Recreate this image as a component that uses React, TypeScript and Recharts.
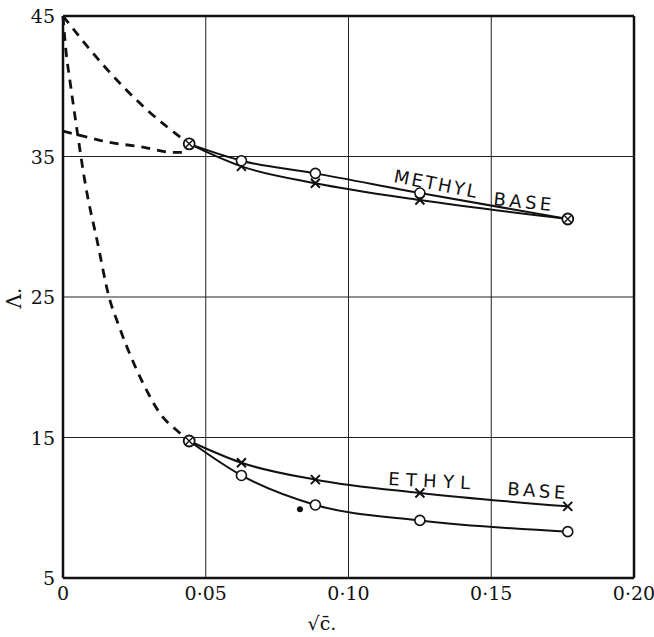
import { ComposedChart, Line, Scatter, XAxis, YAxis, CartesianGrid, ReferenceLine } from "recharts";

// sqrt(c) for the five dilutions
const ROOT_C = [0.0442, 0.0625, 0.0884, 0.125, 0.1768];

const METHYL_CIRCLES = [35.9, 34.7, 33.8, 32.4, 30.55];
const METHYL_CROSSES = [35.9, 34.3, 33.1, 31.9, 30.55];
const ETHYL_CROSSES = [14.75, 13.2, 12.0, 11.05, 10.1];
const ETHYL_CIRCLES = [14.75, 12.3, 10.2, 9.1, 8.3];

// dashed extrapolations towards zero concentration
const UPPER_DASH_X = [0, 0.015, 0.029, 0.0442];
const UPPER_DASH_Y = [45, 41.3, 38.4, 35.9];
const FLAT_DASH_X = [0, 0.006, 0.0164, 0.027, 0.0385, 0.0437];
const FLAT_DASH_Y = [36.8, 36.5, 36.0, 35.7, 35.3, 35.3];
const STEEP_DASH_X = [0, 0.001, 0.0024, 0.0049, 0.008, 0.0119, 0.0164, 0.0192, 0.0224, 0.028, 0.0339, 0.0409, 0.0442];
const STEEP_DASH_Y = [45, 42.58, 40.44, 36.89, 32.83, 29.06, 24.79, 23.15, 21.44, 18.88, 16.74, 15.32, 14.75];

const STRAY_POINT = [{ x: 0.083, y: 9.9 }];

const X_TICKS = [0, 0.05, 0.1, 0.15, 0.2];
const Y_TICKS = [5, 15, 25, 35, 45];

const zip = (xs: number[], ys: number[]) => xs.map((x, i) => ({ x, y: ys[i] }));

const INK = "#111";
const SERIF = "DejaVu Serif";

const Circle = ({ cx, cy }: any) => <circle cx={cx} cy={cy} r={5} fill="#fff" stroke={INK} strokeWidth={1.6} />;
const Cross = ({ cx, cy }: any) => (
  <path d={`M${cx - 4.5},${cy - 4.5}L${cx + 4.5},${cy + 4.5}M${cx - 4.5},${cy + 4.5}L${cx + 4.5},${cy - 4.5}`} stroke={INK} strokeWidth={2} />
);
const CircledCross = ({ cx, cy }: any) => (
  <g>
    <circle cx={cx} cy={cy} r={5.5} fill="#fff" stroke={INK} strokeWidth={1.8} />
    <path d={`M${cx - 3.5},${cy - 3.5}L${cx + 3.5},${cy + 3.5}M${cx - 3.5},${cy + 3.5}L${cx + 3.5},${cy - 3.5}`} stroke={INK} strokeWidth={1.4} />
  </g>
);

const dotFor = (kind: "o" | "x", endsCircled: number[], skip: number[]) => (p: any) => {
  const key = `${kind}-${p.index}`;
  if (skip.includes(p.index)) return <g key={key} />;
  if (endsCircled.includes(p.index)) return <CircledCross key={key} cx={p.cx} cy={p.cy} />;
  return kind === "o" ? <Circle key={key} cx={p.cx} cy={p.cy} /> : <Cross key={key} cx={p.cx} cy={p.cy} />;
};

const fmtX = (v: number) => (v === 0 ? "0" : v.toFixed(2).replace(".", "·"));

const XTick = ({ x, y, payload }: any) => (
  <text x={x} y={y} dy={14} textAnchor="middle" fontFamily={SERIF} fontSize={19} fill={INK}>
    {fmtX(payload.value)}
  </text>
);
const YTick = ({ x, y, payload }: any) => (
  <text x={x} y={y} dy={7} textAnchor="end" fontFamily={SERIF} fontSize={19} fill={INK}>
    {payload.value}
  </text>
);

const labelStyle = { fontFamily: "DejaVu Sans", fontSize: 18, fill: INK };

export default function App() {
  return (
    <div style={{ position: "absolute", left: 0, top: 0, width: 654, height: 637, background: "#fff" }}>
      <ComposedChart width={654} height={637} margin={{ top: 16, right: 20, bottom: 0, left: 8 }}>
        <CartesianGrid stroke="#222" strokeWidth={1} />
        <XAxis
          type="number"
          dataKey="x"
          domain={[0, 0.2]}
          ticks={X_TICKS}
          height={59}
          tickLine={false}
          tickSize={0}
          tickMargin={8}
          axisLine={{ stroke: INK, strokeWidth: 2.5 }}
          tick={XTick}
          interval={0}
        />
        <YAxis
          type="number"
          dataKey="y"
          domain={[5, 45]}
          ticks={Y_TICKS}
          width={55}
          tickLine={false}
          tickSize={0}
          tickMargin={8}
          axisLine={{ stroke: INK, strokeWidth: 2.5 }}
          tick={YTick}
          interval={0}
        />
        <ReferenceLine y={45} stroke={INK} strokeWidth={2.5} />
        <ReferenceLine x={0.2} stroke={INK} strokeWidth={2.5} />

        <Line data={zip(UPPER_DASH_X, UPPER_DASH_Y)} dataKey="y" type="monotone" stroke={INK} strokeWidth={2.8} strokeDasharray="9 7" dot={false} isAnimationActive={false} />
        <Line data={zip(FLAT_DASH_X, FLAT_DASH_Y)} dataKey="y" type="monotone" stroke={INK} strokeWidth={2.8} strokeDasharray="9 7" dot={false} isAnimationActive={false} />
        <Line data={zip(STEEP_DASH_X, STEEP_DASH_Y)} dataKey="y" type="monotone" stroke={INK} strokeWidth={2.8} strokeDasharray="9 7" dot={false} isAnimationActive={false} />

        <Line data={zip(ROOT_C, METHYL_CROSSES)} dataKey="y" type="monotone" stroke={INK} strokeWidth={2} dot={dotFor("x", [], [0, 4])} isAnimationActive={false} />
        <Line data={zip(ROOT_C, METHYL_CIRCLES)} dataKey="y" type="monotone" stroke={INK} strokeWidth={2} dot={dotFor("o", [0, 4], [])} isAnimationActive={false} />
        <Line data={zip(ROOT_C, ETHYL_CIRCLES)} dataKey="y" type="monotone" stroke={INK} strokeWidth={2} dot={dotFor("o", [], [0])} isAnimationActive={false} />
        <Line data={zip(ROOT_C, ETHYL_CROSSES)} dataKey="y" type="monotone" stroke={INK} strokeWidth={2} dot={dotFor("x", [0], [])} isAnimationActive={false} />

        <Scatter data={STRAY_POINT} dataKey="y" fill={INK} shape={(p: any) => <circle cx={p.cx} cy={p.cy} r={3} fill={INK} />} isAnimationActive={false} />
      </ComposedChart>

      <svg width={654} height={637} style={{ position: "absolute", left: 0, top: 0, pointerEvents: "none" }}>
        <text x={393} y={182} transform="rotate(11 393 182)" textLength={84} lengthAdjust="spacing" {...labelStyle}>METHYL</text>
        <text x={493} y={205} transform="rotate(6 493 205)" textLength={58} lengthAdjust="spacing" {...labelStyle}>BASE</text>
        <text x={388} y={485} transform="rotate(3 388 485)" textLength={82} lengthAdjust="spacing" {...labelStyle}>ETHYL</text>
        <text x={507} y={495} transform="rotate(4 507 495)" textLength={58} lengthAdjust="spacing" {...labelStyle}>BASE</text>
        <text x={21} y={298} transform="rotate(-90 21 298)" textAnchor="middle" fontFamily={SERIF} fontSize={20} fill={INK}>Λ.</text>
        <text x={322} y={630} textAnchor="middle" fontFamily={SERIF} fontSize={19} fill={INK}>√c̄.</text>
      </svg>
    </div>
  );
}
